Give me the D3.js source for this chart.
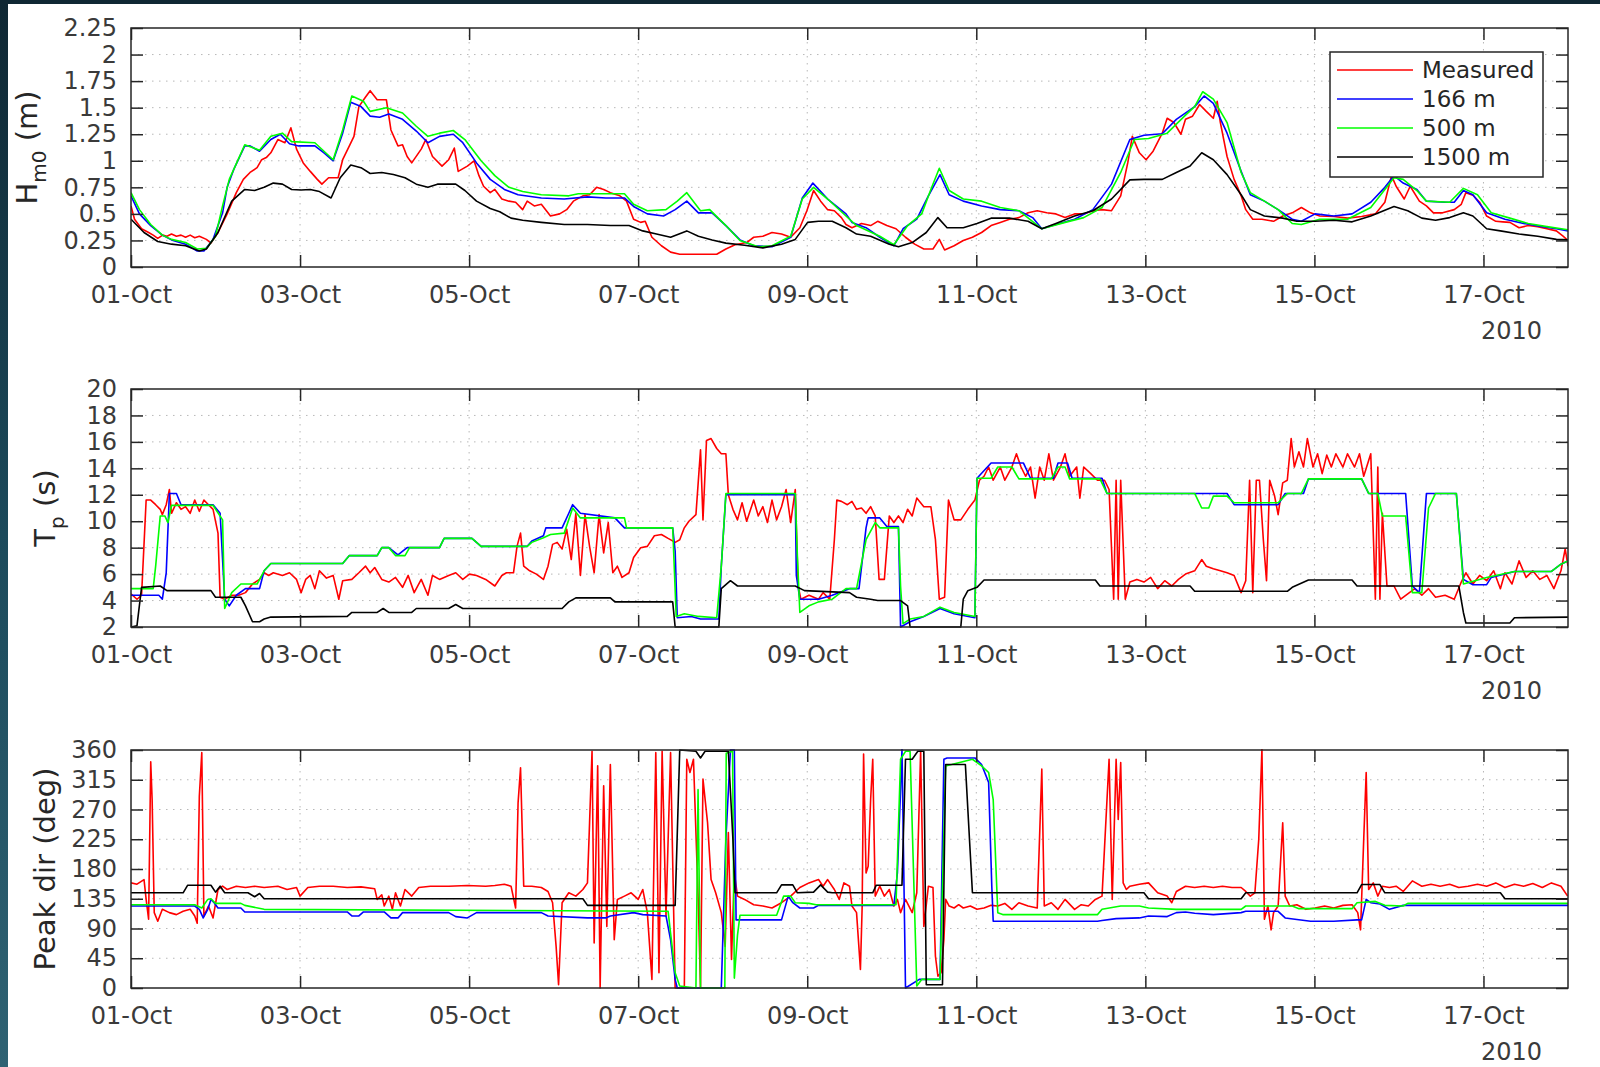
<!DOCTYPE html>
<html>
<head>
<meta charset="utf-8">
<script src="https://cdn.jsdelivr.net/npm/d3@7"></script>
<style>
  body { margin: 0; background: #fff; }
  svg text { font-family: "DejaVu Sans", sans-serif; }
</style>
</head>
<body>
<svg id="chart" width="1600" height="1067"></svg>
<script>
// times are hours after 01-Oct-2010 00:00

// ---- significant wave height Hm0 (m)
const hm0Measured = [[0,0.575],[1,0.45],[3,0.36],[5,0.325],[6.3,0.3],[7.6,0.27],[9,0.3],[10.2,0.29],[11.5,0.31],[12.9,0.29],[14.2,0.3],[15.5,0.28],[16.8,0.3],[18.1,0.275],[19.4,0.29],[21.4,0.26],[22.7,0.225],[24.7,0.325],[27.3,0.5],[29.9,0.7],[31.9,0.825],[33.8,0.89],[35.8,0.935],[37.1,1.01],[38.4,1.03],[39.7,1.075],[41.7,1.2],[43.7,1.17],[45.4,1.31],[47,1.11],[48.9,0.98],[50.9,0.9],[52.9,0.825],[54.2,0.78],[56.1,0.84],[58.8,0.84],[60.1,1.01],[62,1.14],[63.3,1.23],[64.7,1.51],[66.6,1.6],[67.9,1.66],[69.9,1.575],[72.5,1.575],[73.8,1.29],[75.8,1.14],[77.1,1.15],[78.4,1.04],[79.7,0.98],[82.4,1.11],[83.7,1.2],[85.6,1.04],[88.3,0.95],[90.2,1.01],[91.8,1.12],[92.9,0.9],[95.5,0.95],[97.4,1.0],[98.8,0.86],[100.1,0.76],[102,0.7],[103.3,0.73],[105.3,0.64],[107.3,0.62],[109.2,0.61],[111.2,0.54],[112.5,0.62],[114.5,0.575],[116.5,0.59],[119.1,0.48],[121.7,0.5],[123.7,0.54],[125.6,0.62],[128.3,0.67],[130.2,0.68],[132.2,0.75],[134.2,0.73],[136.1,0.7],[138.8,0.67],[140.7,0.62],[142.7,0.45],[144.7,0.42],[146,0.43],[147.9,0.28],[150.6,0.2],[153.2,0.14],[155.8,0.12],[162.4,0.12],[166.3,0.12],[168.9,0.17],[171.5,0.21],[174.8,0.23],[176.8,0.28],[179.4,0.29],[182,0.325],[184.7,0.31],[187.3,0.28],[189.9,0.37],[191.9,0.53],[193.8,0.72],[195.8,0.62],[197.8,0.54],[199.7,0.53],[201.7,0.465],[203,0.4],[204.7,0.37],[207.4,0.41],[210,0.39],[212,0.43],[214.6,0.39],[217.2,0.36],[219.9,0.28],[222.5,0.215],[225.1,0.17],[227.7,0.17],[229.5,0.26],[231,0.16],[233.7,0.2],[236.3,0.25],[238.9,0.28],[241.5,0.325],[244.2,0.39],[246.8,0.42],[249.4,0.45],[252.1,0.465],[254.7,0.51],[257.3,0.53],[260,0.51],[262.6,0.5],[265.2,0.465],[267.9,0.5],[270.5,0.5],[273.1,0.53],[275.7,0.54],[278.4,0.53],[281,0.67],[283,0.98],[284.3,1.23],[286.3,1.075],[288.2,1.01],[290.2,1.09],[292.8,1.26],[294.2,1.4],[296.1,1.36],[298.1,1.25],[299.4,1.39],[301.4,1.42],[303.4,1.53],[305.3,1.465],[307.3,1.4],[308.4,1.56],[309.3,1.36],[311.2,1.04],[313.2,0.825],[315.2,0.67],[316.5,0.54],[318.5,0.45],[321.1,0.45],[324.4,0.43],[327,0.48],[329.7,0.51],[332.3,0.56],[334.9,0.51],[337.5,0.48],[341.5,0.475],[345.4,0.46],[349.4,0.475],[353.3,0.5],[356,0.61],[357.9,0.86],[359.2,0.76],[361.5,0.64],[363.2,0.76],[365.8,0.62],[367.8,0.575],[369.8,0.51],[372.4,0.51],[375.7,0.54],[377.7,0.59],[379,0.7],[381,0.675],[382.9,0.61],[384.9,0.48],[387.5,0.43],[389.5,0.425],[391.5,0.42],[394.1,0.37],[396.7,0.39],[399.4,0.38],[402,0.36],[404.7,0.34],[406.6,0.29],[408,0.25]];
const hm0Model166 = [[0,0.67],[2.4,0.5],[5.6,0.39],[8.9,0.3],[11.5,0.255],[15.5,0.215],[18.8,0.15],[20.7,0.15],[23.3,0.26],[26,0.51],[27.3,0.75],[29.2,0.92],[32.3,1.14],[33.8,1.14],[36.5,1.09],[39.7,1.2],[42.4,1.25],[45,1.16],[47.6,1.14],[52.2,1.14],[54.8,1.075],[57.4,1.0],[60.1,1.26],[62.4,1.55],[65.3,1.51],[67.9,1.42],[70.6,1.41],[73.2,1.44],[77.1,1.39],[81,1.28],[84.3,1.17],[87.6,1.23],[91.5,1.25],[94.2,1.17],[98.1,0.98],[102,0.825],[106,0.73],[109.9,0.68],[116.5,0.65],[123,0.64],[129.6,0.66],[134.8,0.65],[140.1,0.65],[142.7,0.57],[146.6,0.5],[151.2,0.48],[154.5,0.54],[157.8,0.62],[161.1,0.51],[165,0.51],[168.9,0.39],[172.9,0.255],[176.8,0.2],[182,0.19],[187.3,0.28],[190.6,0.65],[193.6,0.79],[197.8,0.64],[203,0.5],[204.7,0.42],[208.7,0.37],[212.6,0.28],[216.6,0.2],[219.2,0.36],[223.1,0.45],[226.4,0.67],[229.7,0.87],[232.3,0.68],[236.3,0.62],[241.5,0.575],[246.8,0.54],[252.1,0.53],[256,0.465],[258.6,0.36],[262.6,0.4],[267.9,0.45],[273.1,0.54],[278.4,0.78],[283.6,1.2],[287.6,1.24],[292.8,1.255],[296.8,1.39],[302,1.51],[304.7,1.61],[307.3,1.54],[311.2,1.26],[315.2,0.9],[317.8,0.68],[321.8,0.62],[325.7,0.54],[329.7,0.45],[332.3,0.43],[336.2,0.5],[341.5,0.48],[346.7,0.5],[352,0.61],[356,0.75],[358.6,0.86],[361.2,0.79],[365.1,0.73],[367.8,0.62],[373.1,0.61],[375.7,0.61],[378.3,0.72],[381,0.68],[384.9,0.51],[390.1,0.45],[395.4,0.41],[400.7,0.38],[404.7,0.36],[408,0.34]];
const hm0Model500 = [[0,0.7],[2.4,0.54],[5.6,0.4],[8.9,0.3],[11.5,0.26],[15.5,0.23],[18.8,0.17],[21.4,0.175],[24,0.29],[26,0.575],[27.9,0.825],[32.3,1.15],[36.5,1.1],[39.7,1.23],[43,1.26],[45.6,1.18],[52.2,1.17],[57.4,1.01],[60.1,1.29],[62.7,1.61],[66,1.56],[67.9,1.465],[72.5,1.5],[77.1,1.45],[81,1.325],[84.3,1.23],[87.6,1.26],[91.5,1.285],[94.8,1.2],[99.4,1.0],[103.3,0.86],[107.3,0.75],[111.2,0.71],[116.5,0.68],[124.3,0.67],[127,0.69],[140.1,0.69],[142.7,0.59],[146.6,0.53],[151.9,0.54],[155.1,0.62],[157.8,0.7],[161.7,0.53],[164.3,0.54],[168.9,0.39],[172.9,0.25],[178.1,0.19],[182,0.2],[187.3,0.29],[190.6,0.64],[193.8,0.75],[197.8,0.64],[203,0.48],[206,0.39],[212.6,0.29],[216.6,0.21],[220.5,0.39],[224.5,0.5],[227.1,0.73],[229.5,0.93],[232.3,0.72],[236.3,0.64],[241.5,0.62],[246.8,0.56],[252.1,0.53],[258.6,0.36],[265.2,0.42],[270.5,0.465],[275.7,0.56],[281,0.89],[284.9,1.2],[288.9,1.21],[294.2,1.26],[299.4,1.43],[302,1.51],[304.3,1.65],[307.3,1.58],[311.2,1.36],[315.2,0.89],[317.8,0.7],[321.8,0.62],[325.7,0.54],[329.7,0.41],[332.3,0.4],[337.5,0.45],[345.4,0.45],[352,0.56],[356,0.73],[358.6,0.84],[361.2,0.825],[365.1,0.72],[367.8,0.62],[374.4,0.61],[378.3,0.74],[382.3,0.68],[386.2,0.51],[391.5,0.46],[396.7,0.41],[402,0.38],[408,0.35]];
const hm0Model1500 = [[0,0.45],[3.7,0.325],[7.6,0.24],[11.5,0.215],[15.5,0.2],[19.4,0.15],[21.4,0.17],[24.7,0.325],[28.6,0.62],[32.3,0.73],[35.1,0.72],[37.8,0.75],[40.4,0.79],[43,0.78],[45.6,0.73],[48.3,0.725],[50.9,0.73],[53.5,0.71],[56.8,0.65],[59.4,0.84],[62.4,0.96],[65.3,0.935],[67.9,0.88],[71.2,0.89],[74.5,0.87],[77.8,0.84],[81,0.78],[84.3,0.75],[87,0.78],[89.6,0.78],[92.2,0.78],[94.8,0.72],[98.1,0.62],[102,0.55],[104.7,0.52],[107.9,0.46],[111.2,0.44],[116.5,0.42],[123,0.4],[129.6,0.4],[136.1,0.39],[141.4,0.39],[145.3,0.34],[149.2,0.31],[153.2,0.28],[157.8,0.34],[161.1,0.29],[165,0.255],[168.9,0.225],[174.2,0.205],[179.4,0.18],[184.7,0.215],[188.6,0.26],[192.1,0.42],[195.2,0.43],[199.1,0.43],[203,0.37],[206,0.31],[210,0.29],[215.3,0.215],[217.9,0.19],[221.8,0.23],[225.8,0.325],[229.1,0.465],[231.7,0.37],[236.3,0.37],[240.2,0.41],[244.2,0.46],[249.4,0.46],[254.7,0.43],[258.6,0.36],[262.6,0.41],[267.9,0.48],[273.1,0.53],[278.4,0.64],[283.6,0.82],[287.6,0.825],[292.8,0.825],[296.8,0.89],[300.7,0.95],[304,1.075],[307.3,1.01],[311.2,0.87],[315.2,0.68],[317.8,0.54],[321.8,0.48],[327,0.46],[331,0.43],[336.2,0.43],[341.5,0.44],[346.7,0.425],[352,0.48],[358.6,0.57],[362.5,0.53],[366.5,0.46],[370.4,0.44],[374.4,0.465],[378.3,0.51],[381,0.48],[384.9,0.36],[388.8,0.34],[394.1,0.31],[399.4,0.29],[404.7,0.26],[408,0.255]];

// ---- peak period Tp (s)
const tpMeasured = [[0,4.5],[1.7,4.1],[3,4.4],[4.3,11.6],[5.6,11.6],[7,11.25],[8.3,10.9],[8.9,10.5],[10,11.25],[10.9,12.4],[11.5,10.6],[12.9,11.4],[14.2,10.9],[15.5,11.1],[16.8,10.6],[18.1,11.6],[19.4,10.75],[20.7,11.6],[22,11.25],[23.3,10.9],[24.7,9.1],[25.3,4.25],[26.6,4.1],[28.6,4.4],[30.6,4.4],[32.5,4.6],[34.5,5.25],[36.5,5.6],[37.8,6.1],[39.1,5.9],[40.4,6.1],[43,5.9],[45,6.1],[47,5.6],[48.3,4.6],[49.6,5.6],[50.9,5.9],[52.2,4.9],[53.5,6.25],[55.5,5.7],[57.4,5.9],[59,4.1],[60.1,5.5],[62.7,5.6],[64.7,6.1],[66.6,6.6],[67.9,6.1],[69.2,6.5],[71.2,5.6],[73.2,5.4],[75.1,5.75],[77.1,5.0],[78.7,5.9],[80.4,4.6],[82.4,5.6],[84.3,4.4],[85.6,5.9],[87.6,5.6],[90.2,5.9],[92.2,6.1],[94.2,5.6],[96.1,6.0],[98.1,5.9],[100.7,5.6],[103.3,5.1],[105.3,5.9],[106.6,6.1],[108.6,6.1],[109.6,8.1],[110.6,9.1],[111.5,6.6],[113.2,6.25],[115.1,6.0],[117.1,5.6],[118.4,6.6],[119.7,8.25],[121,8.4],[122.4,7.9],[123.7,9.4],[125,7.1],[126.3,10.6],[127.6,5.9],[128.9,10.5],[130.2,8.1],[131.5,6.1],[132.9,10.5],[134.2,7.6],[135.5,9.9],[136.8,6.1],[138.1,6.6],[139.4,5.75],[141.4,6.1],[142.7,7.25],[144.7,8.0],[146.6,8.1],[148.6,8.9],[150.6,9.0],[152.5,8.7],[154.5,8.4],[155.8,8.6],[157.1,9.5],[158.4,10.0],[160.4,10.5],[161.7,15.4],[162.4,10.1],[163.4,16.1],[164.7,16.25],[166.3,15.5],[167.6,15.1],[168.9,15.1],[169.6,12.0],[170.9,10.9],[172.2,10.1],[173.5,11.4],[174.8,10.0],[176.8,11.6],[178.1,10.4],[179.4,11.1],[180.7,9.9],[182,11.6],[183.3,10.1],[184.7,11.1],[186,12.4],[187.3,9.9],[188.6,12.4],[189.4,5.1],[190.2,4.1],[192.5,4.4],[195.2,4.1],[196.5,4.6],[198.4,4.1],[199.7,8.6],[200.4,11.6],[201.7,11.5],[203.4,11.25],[204.7,11.5],[206,10.9],[207.4,11.0],[208.7,10.6],[210,11.1],[211.3,10.4],[212.4,5.6],[213.9,5.6],[215.3,10.4],[216.6,9.9],[217.9,10.4],[219.2,9.9],[220.5,10.9],[221.8,10.4],[223.1,11.75],[225.1,11.1],[227.1,11.1],[228.4,8.6],[229.5,4.1],[231,4.25],[232.1,11.6],[233.7,10.1],[235.6,10.1],[237.6,10.9],[239.6,11.6],[240.9,13.1],[242.2,13.4],[243.5,14.1],[244.8,13.1],[246.8,14.1],[248.1,13.1],[250.1,14.1],[251.4,15.1],[252.7,14.1],[254,13.4],[255.4,14.1],[256.7,11.75],[258,14.1],[259.3,13.1],[260.6,15.1],[261.9,13.1],[263.9,14.1],[265.2,15.1],[266.5,13.4],[268.5,14.1],[269.4,11.75],[270.5,14.1],[272.5,13.6],[274.4,13.1],[276.4,13.1],[277.7,12.4],[279,4.1],[279.7,13.1],[280.3,4.1],[281,13.1],[282.3,4.1],[283.6,5.4],[285.6,5.6],[287.6,5.4],[289.5,5.75],[291.5,4.9],[293.5,5.5],[295.5,5.1],[297.4,5.6],[299.4,6.0],[302,6.25],[304,7.1],[305.3,6.6],[307.3,6.4],[309.3,6.25],[311.2,6.1],[313.2,5.9],[315.2,4.6],[316.5,5.5],[317.6,13.1],[318.5,4.6],[319.5,13.1],[320.4,13.1],[321.5,8.6],[322.4,5.5],[323.3,13.1],[324.7,11.9],[325.7,10.5],[327,12.9],[328.3,13.1],[329.4,16.25],[330.3,14.1],[331.6,15.25],[332.9,14.1],[334,16.25],[335.6,14.1],[336.9,15.1],[338.2,13.6],[339.5,15.0],[340.8,14.1],[342.1,15.1],[344.1,14.1],[345.4,15.1],[347.4,14.1],[348.8,15.1],[350,13.4],[352,15.1],[353.3,4.1],[354,14.1],[354.6,4.1],[355.3,10.6],[356.6,5.1],[358.6,5.1],[360.5,4.1],[362.5,4.5],[364.5,4.9],[366.5,4.4],[368.4,4.9],[370.4,4.25],[373.1,4.4],[375.7,4.1],[377.7,5.4],[379,6.1],[381,5.25],[382.9,5.9],[384.9,5.5],[386.9,6.25],[388.8,4.9],[390.1,6.1],[392.1,5.25],[394.1,7.0],[396.1,5.75],[398,6.25],[400,5.6],[402,5.9],[404,4.9],[406,6.25],[407.2,7.9],[408,6.6]];
const tpModel166 = [[0,4.4],[7.9,4.4],[8.9,4.1],[10,6.1],[10.9,12.1],[12.9,12.1],[14.2,11.25],[23.3,11.25],[25.3,10.6],[26.6,4.1],[27.9,3.6],[29.9,4.4],[32.5,4.9],[36.5,4.9],[37.8,6.25],[39.7,6.8],[60.1,6.8],[62,7.4],[69.9,7.4],[71.2,8.0],[73.2,8.0],[75.8,7.45],[78.4,8.0],[87.6,8.0],[88.9,8.7],[96.8,8.7],[99.4,8.1],[112.5,8.1],[113.8,8.5],[117.1,8.9],[117.8,9.5],[122.4,9.5],[124.3,10.6],[125.4,11.25],[127.6,10.6],[137.4,10.25],[140.1,9.5],[153.8,9.5],[154.5,7.75],[155.1,2.7],[159.1,2.8],[161.7,2.6],[166.9,2.6],[167.6,6.6],[168.9,12.0],[188.6,12.0],[188.9,5.9],[189.9,4.1],[195.2,4.1],[199.1,4.4],[204,4.9],[206.7,4.9],[208.7,9.5],[209.3,10.25],[212.6,10.25],[214.6,9.6],[217.9,9.6],[218.5,2],[221.2,2.4],[225.1,2.8],[229.7,3.4],[233.7,3.0],[239.6,2.7],[240.2,13.25],[244.2,14.4],[253.4,14.4],[255.4,13.25],[261.9,13.25],[263.2,14.4],[265.9,14.4],[267.2,13.25],[275.7,13.25],[277.1,12.1],[311.2,12.1],[313.2,11.25],[325.7,11.25],[327.7,12.1],[332.9,12.1],[334.3,13.2],[349.4,13.2],[351.4,12.1],[361.9,12.1],[363.8,5.1],[365.8,4.6],[367.8,12.1],[376.3,12.1],[378.3,5.6],[381,5.2],[384.9,5.2],[386.2,5.75],[392.8,6.2],[403.3,6.2],[406,6.75],[408,7.0]];
const tpModel500 = [[0,4.9],[6.3,4.9],[7,6.6],[8.3,10.4],[9.6,10.4],[10.5,9.9],[11.5,11.2],[23.3,11.2],[26,10.1],[26.6,3.4],[28.6,4.6],[31.2,5.25],[35.8,5.25],[37.8,6.25],[39.7,6.8],[60.1,6.8],[62,7.4],[69.9,7.4],[71.2,8.0],[73.2,8.0],[75.1,7.4],[77.8,7.4],[79.1,8.0],[87.6,8.0],[88.9,8.7],[96.8,8.7],[99.4,8.1],[112.5,8.1],[113.8,8.4],[117.1,8.75],[119.1,9.0],[123,9.1],[125.4,11.0],[127.6,10.25],[140.1,10.25],[140.7,9.5],[153.8,9.5],[154.8,2.8],[157.1,3.0],[161.1,2.8],[166.3,2.7],[167.6,6.6],[168.9,12.1],[188.6,12.1],[189.2,7.4],[189.9,3.1],[192.5,3.6],[195.2,3.9],[199.1,4.1],[203,4.9],[206,4.9],[208.7,8.6],[211.3,9.9],[212.6,9.5],[217.9,9.5],[218.5,5.1],[219.2,2.25],[221.2,2.6],[225.1,2.8],[229.7,3.5],[233.7,3.1],[235.6,3.0],[239.6,2.8],[240.2,13.25],[244.2,13.25],[246.1,14.1],[250.1,14.1],[252.1,13.2],[261.3,13.2],[263.2,14.1],[265.2,14.1],[266.5,13.2],[275.1,13.2],[277.1,12.1],[302,12.1],[304,11.0],[306,11.0],[307.3,11.9],[311.2,11.9],[313.2,11.4],[325.7,11.4],[328.3,12.1],[332.3,12.1],[334.3,13.2],[349.4,13.2],[351.4,12.1],[354,12.1],[355.3,10.4],[361.9,10.4],[363.8,4.6],[366.5,4.6],[368.4,11.0],[370.4,12.1],[376.3,12.1],[378.3,5.25],[384.9,5.75],[392.8,6.2],[403.3,6.2],[406,6.75],[408,7.0]];
const tpModel1500 = [[0,2],[1.7,2.1],[3,5.0],[8.3,5.1],[10.2,4.75],[22.7,4.75],[24,4.25],[31.2,4.25],[32.5,3.6],[34.5,2.4],[36.5,2.4],[37.8,2.6],[39.7,2.75],[61.4,2.8],[62.7,3.1],[69.9,3.1],[71.6,3.4],[73.2,3.1],[79.7,3.1],[81,3.4],[90.2,3.4],[92.2,3.7],[94.2,3.4],[122.4,3.4],[124.3,3.9],[126.3,4.2],[136.1,4.2],[137.4,3.9],[153.8,3.9],[154.5,2],[166.9,2],[167.6,4.9],[170.2,5.5],[172.2,5.1],[188.6,5.1],[191.2,4.75],[204,4.6],[206,4.25],[210,4.1],[212,4.0],[218.5,4.0],[220.5,3.6],[221.2,2.0],[235.6,2.0],[236.3,4.1],[237.6,4.75],[240.2,5.0],[242.2,5.55],[273.8,5.55],[275.1,5.1],[300.7,5.1],[302,4.7],[328.3,4.7],[329.7,5.0],[334.3,5.55],[346.7,5.55],[348.1,5.1],[377,5.1],[378.3,3.1],[379,2.3],[391.5,2.3],[392.8,2.7],[408,2.75]];

// ---- peak direction (deg)
const dirMeasured = [[0,159],[1.7,157],[3.7,164],[4.3,134],[5,104],[5.6,342],[6,285],[6.6,114],[7.6,101],[8.9,119],[10.9,114],[12.9,111],[14.8,116],[16.8,119],[18.1,109],[18.8,98],[19.4,290],[20.1,356],[20.7,109],[22,124],[23.3,106],[24.7,149],[26,154],[27.3,149],[29.9,154],[32.5,152],[35.1,154],[37.8,152],[41.7,154],[44.3,149],[47,152],[48,139],[50.2,152],[53.5,154],[57.4,154],[61.4,152],[65.3,153],[69.2,150],[69.9,134],[71.2,141],[71.9,124],[73.2,139],[74.2,119],[75.1,144],[76.5,124],[77.8,149],[79.7,139],[81.7,152],[85,154],[90.2,154],[95.5,155],[100.7,154],[103.3,155],[106,157],[107.9,154],[109.2,121],[109.9,280],[110.6,333],[111.5,154],[113.8,154],[116.5,152],[118.4,146],[119.7,129],[120.7,63],[121.4,5],[122.4,129],[124.3,144],[126.3,139],[128.3,149],[129.6,159],[130.2,250],[130.9,358],[131.5,68],[132.5,336],[133.2,0],[134.2,306],[135.1,93],[136.1,338],[137.2,73],[138.1,134],[140.1,139],[142,144],[144,134],[145.3,149],[146.6,114],[147.9,13],[149,356],[149.9,23],[150.8,358],[151.9,109],[153.2,356],[154.5,0],[157.1,0],[157.8,346],[158.7,326],[159.7,346],[161.1,124],[161.7,0],[162.4,316],[163.7,250],[164.7,164],[166,144],[167.6,114],[168.7,63],[169.6,235],[170.5,43],[171.3,174],[172.2,139],[174.2,134],[176.8,126],[179.4,124],[182,121],[184.7,129],[187.3,139],[189.9,152],[192.5,159],[195.2,164],[196.5,154],[197.8,164],[199.7,149],[201.1,134],[202.4,159],[204,154],[204.7,124],[206,114],[207.1,28],[207.6,124],[208,354],[208.7,174],[209.3,184],[210,285],[210.6,346],[211.3,139],[212.6,154],[213.9,139],[215.3,149],[216.6,124],[217.6,134],[218.5,114],[219.9,134],[221.8,114],[223.1,144],[224.2,358],[225.1,93],[226.4,154],[227.7,152],[228.4,48],[229.1,18],[230,23],[230.8,73],[231.3,134],[232.3,124],[233.7,121],[235,126],[236.3,121],[238.3,124],[240.2,119],[242.2,121],[244.2,125],[246.1,124],[248.1,128],[250.1,119],[252.1,129],[254.7,124],[257.3,121],[258.6,331],[259.3,124],[261.3,129],[263.2,119],[265.2,134],[267.9,119],[269.8,126],[271.8,124],[273.8,134],[275.7,139],[277.7,346],[278.6,134],[279.7,346],[280.3,255],[281,341],[281.7,159],[282.6,149],[283.6,154],[286.3,157],[288.9,159],[291.5,144],[294.2,139],[295.5,129],[296.8,146],[299.4,154],[302,152],[304.7,154],[307.3,152],[309.9,154],[312.6,152],[315.2,152],[316.5,146],[317.8,139],[319.1,144],[320.2,225],[321.1,361],[321.8,104],[322.8,124],[323.7,88],[324.4,114],[325.7,124],[327,250],[327.7,139],[329,124],[331,126],[333.6,119],[336.2,121],[338.9,124],[341.5,121],[344.1,125],[346.7,126],[348.3,114],[349.1,88],[350,225],[350.7,326],[351.4,149],[352.7,159],[354,139],[355.3,154],[357.3,152],[359.2,154],[361.2,146],[363.8,162],[366.5,154],[369.1,157],[371.7,154],[374.4,157],[377,152],[379.6,154],[382.3,157],[384.9,154],[387.5,159],[390.1,152],[392.8,157],[395.4,154],[398,158],[400.7,152],[403.3,159],[406,154],[407.9,139]];
const dirModel166 = [[0,124],[18.1,124],[19.4,119],[20.5,106],[21.8,119],[22.7,134],[23.6,129],[24.7,121],[31.2,121],[32.3,115],[61.4,115],[62.7,109],[64.7,109],[66,115],[71.9,115],[73.8,106],[75.8,106],[77.1,114],[90.2,114],[92.2,108],[95.5,106],[98.1,114],[116.5,114],[118.4,109],[129.6,106],[134.8,106],[136.1,109],[142.7,114],[145.3,111],[151.9,109],[153.2,73],[154.5,13],[155.1,0],[167.6,0],[168.9,225],[170.2,360],[171.3,360],[171.8,103],[184.7,103],[186.6,139],[187.9,129],[189.9,121],[193.8,121],[195.2,125],[216.6,125],[217.6,174],[218.5,300],[218.9,361],[219.9,0],[223.8,13],[229.7,13],[230.8,346],[231.7,348],[239.6,348],[241.5,338],[243.5,311],[244.4,154],[244.8,101],[274.4,101],[275.7,102],[279.7,105],[286.3,106],[288.9,109],[294.2,108],[296.8,114],[299.4,115],[302,113],[307.3,111],[315.2,114],[316.5,116],[325.7,116],[327.7,106],[334.9,101],[341.5,101],[348.1,103],[349.4,103],[350.7,134],[352,129],[354.6,127],[357.3,119],[358.6,121],[361.2,125],[408,125]];
const dirModel500 = [[0,126],[18.1,126],[20.1,121],[21.8,134],[22.7,135],[24,128],[31.2,128],[32.3,125],[37.8,119],[152.5,116],[153.2,83],[154.5,23],[155.8,3],[160.4,0],[161,300],[161.7,0],[168.6,0],[169,355],[170.8,358],[171.3,15],[172.2,80],[172.9,110],[183.3,110],[185.3,139],[187.3,139],[188.6,129],[192.5,128],[194.5,126],[217.2,126],[218.5,346],[219.9,358],[221.2,358],[223.1,3],[224.5,13],[229.7,13],[231.3,336],[233,338],[238.9,346],[241.5,336],[243.5,326],[244.8,285],[246.1,114],[247.5,111],[274.4,111],[275.7,119],[281,124],[286.3,124],[288.9,121],[296.8,119],[315.2,119],[316.5,124],[329.7,124],[331.6,120],[346.7,120],[348.1,129],[353.3,131],[356,125],[361.2,124],[362.5,128],[408,128]];
const dirModel1500 = [[0,144],[14.8,144],[16.1,155.5],[22.7,155.5],[24,145],[25.3,154],[26.6,144],[33.2,144],[35.1,138],[36.5,143],[37.8,135],[128.3,135],[129.6,125],[154.5,125],[155.8,360],[160.4,358],[161.7,348],[163,358],[169.6,358],[170.9,225],[171.5,144],[183.3,144],[184.7,156],[187.9,156],[189.2,144],[193.8,145],[195.8,156],[197.8,145],[199.1,144],[210.6,144],[211.6,155.5],[218.9,155.5],[219.9,346],[221.8,346],[223.4,358],[225.1,358],[225.8,5],[230.4,5],[231.3,338],[236.9,338],[238.9,144],[287.6,144],[288.9,135],[315.2,135],[316.5,144],[348.1,144],[349.4,156.5],[354.6,156.5],[356,144],[388.8,144],[390.1,135],[408,135]];

const seriesNames = ["Measured", "166 m", "500 m", "1500 m"];
const seriesColors = ["#ff0000", "#0000ff", "#00ff00", "#000000"];
const dayTicks = [0, 2, 4, 6, 8, 10, 12, 14, 16];
const hm0Ticks = [0, 0.25, 0.5, 0.75, 1, 1.25, 1.5, 1.75, 2, 2.25];
const tpTicks = [2, 4, 6, 8, 10, 12, 14, 16, 18, 20];
const dirTicks = [0, 45, 90, 135, 180, 225, 270, 315, 360];

const START = Date.UTC(2010, 9, 1);
const toDate = h => new Date(START + h * 3600e3);

const svg = d3.select("#chart");
const left = 131, right = 1568;
const axisColor = "#262626", labelColor = "#3a3a3a";

// the dark slide edge on the left and top of the screenshot
const defs = svg.append("defs");
const edge = defs.append("linearGradient").attr("id", "edge").attr("x1", 0).attr("y1", 0).attr("x2", 0).attr("y2", 1);
edge.append("stop").attr("offset", "0%").attr("stop-color", "#0f2733");
edge.append("stop").attr("offset", "50%").attr("stop-color", "#1c4a5b");
edge.append("stop").attr("offset", "100%").attr("stop-color", "#2f6273");
svg.append("rect").attr("x", 0).attr("y", 0).attr("width", 8).attr("height", 1067).attr("fill", "url(#edge)");
svg.append("rect").attr("x", 0).attr("y", 0).attr("width", 1600).attr("height", 4).attr("fill", "#0f2733");

const x = d3.scaleUtc().domain([toDate(0), toDate(408)]).range([left, right]);
const xTickDates = dayTicks.map(d => toDate(d * 24));
const fmtDay = d3.utcFormat("%d-%b");

const panels = [
  { top: 28, bottom: 267, domain: [0, 2.25], ticks: hm0Ticks,
    series: [hm0Measured, hm0Model166, hm0Model500, hm0Model1500], labelX: 37,
    label: [["H", 0], ["m0", 1], [" (m)", 0]] },
  { top: 389, bottom: 627, domain: [2, 20], ticks: tpTicks,
    series: [tpMeasured, tpModel166, tpModel500, tpModel1500], labelX: 55,
    label: [["T", 0], ["p", 1], [" (s)", 0]] },
  { top: 750, bottom: 988, domain: [0, 360], ticks: dirTicks,
    series: [dirMeasured, dirModel166, dirModel500, dirModel1500], labelX: 55,
    label: [["Peak dir (deg)", 0]] }
];

function styleAxis(g) {
  g.select(".domain").remove();
  g.attr("font-family", null).attr("font-size", null);
  g.selectAll(".tick line").attr("stroke", axisColor).attr("stroke-width", 1.5);
  g.selectAll(".tick text").attr("fill", labelColor).attr("font-size", 24);
}

panels.forEach((p, i) => {
  const y = d3.scaleLinear().domain(p.domain).range([p.bottom, p.top]);
  const g = svg.append("g");

  // dotted grid
  const grid = g.append("g").attr("stroke", "#b8b8b8").attr("stroke-width", 1).attr("stroke-dasharray", "1.5,5.5");
  grid.selectAll(".gy").data(p.ticks.slice(1, -1)).join("line")
    .attr("x1", left).attr("x2", right).attr("y1", d => y(d)).attr("y2", d => y(d));
  grid.selectAll(".gx").data(xTickDates.slice(1)).join("line")
    .attr("x1", d => x(d)).attr("x2", d => x(d)).attr("y1", p.top).attr("y2", p.bottom);

  // series
  defs.append("clipPath").attr("id", "clip" + i).append("rect")
    .attr("x", left).attr("y", p.top - 1).attr("width", right - left).attr("height", p.bottom - p.top + 2);
  const line = d3.line().x(d => x(toDate(d[0]))).y(d => y(d[1]));
  g.append("g").attr("clip-path", `url(#clip${i})`)
    .selectAll("path").data(p.series).join("path")
    .attr("d", line).attr("fill", "none")
    .attr("stroke", (d, k) => seriesColors[k]).attr("stroke-width", 1.6)
    .attr("stroke-linejoin", "round");

  // axes with inward ticks on all four sides
  g.append("g").attr("transform", `translate(0,${p.bottom})`)
    .call(d3.axisBottom(x).tickValues(xTickDates).tickFormat(fmtDay).tickSizeInner(-12).tickSizeOuter(0).tickPadding(19))
    .call(styleAxis);
  g.append("g").attr("transform", `translate(0,${p.top})`)
    .call(d3.axisTop(x).tickValues(xTickDates).tickFormat("").tickSizeInner(-12).tickSizeOuter(0))
    .call(styleAxis);
  g.append("g").attr("transform", `translate(${left},0)`)
    .call(d3.axisLeft(y).tickValues(p.ticks).tickFormat(d => String(+d.toFixed(2))).tickSizeInner(-12).tickSizeOuter(0).tickPadding(14))
    .call(styleAxis);
  g.append("g").attr("transform", `translate(${right},0)`)
    .call(d3.axisRight(y).tickValues(p.ticks).tickFormat("").tickSizeInner(-12).tickSizeOuter(0))
    .call(styleAxis);

  g.append("rect").attr("x", left).attr("y", p.top).attr("width", right - left).attr("height", p.bottom - p.top)
    .attr("fill", "none").attr("stroke", axisColor).attr("stroke-width", 1.5);

  // year under the last tick
  g.append("text").attr("x", 1542).attr("y", p.bottom + 72).attr("text-anchor", "end")
    .attr("font-size", 24).attr("fill", labelColor).text("2010");

  // y label
  const yl = g.append("text")
    .attr("transform", `translate(${p.labelX},${(p.top + p.bottom) / 2}) rotate(-90)`)
    .attr("text-anchor", "middle").attr("font-size", 29).attr("fill", axisColor);
  p.label.forEach(([t, sub], k) => {
    const ts = yl.append("tspan").text(t);
    if (sub) ts.attr("font-size", 20).attr("dy", 9);
    else if (k > 0) ts.attr("dy", -9);
  });

  // legend only in the top panel
  if (i === 0) {
    const lg = g.append("g");
    lg.append("rect").attr("x", 1330).attr("y", 52).attr("width", 213).attr("height", 125)
      .attr("fill", "#fff").attr("stroke", axisColor).attr("stroke-width", 1.5);
    const rows = lg.selectAll(".row").data(seriesNames).join("g")
      .attr("transform", (d, k) => `translate(0,${70 + k * 29})`);
    rows.append("line").attr("x1", 1337).attr("x2", 1413)
      .attr("stroke", (d, k) => seriesColors[k]).attr("stroke-width", 1.6);
    rows.append("text").attr("x", 1422).attr("y", 8).attr("font-size", 23)
      .attr("fill", axisColor).text(d => d);
  }
});
</script>
</body>
</html>
